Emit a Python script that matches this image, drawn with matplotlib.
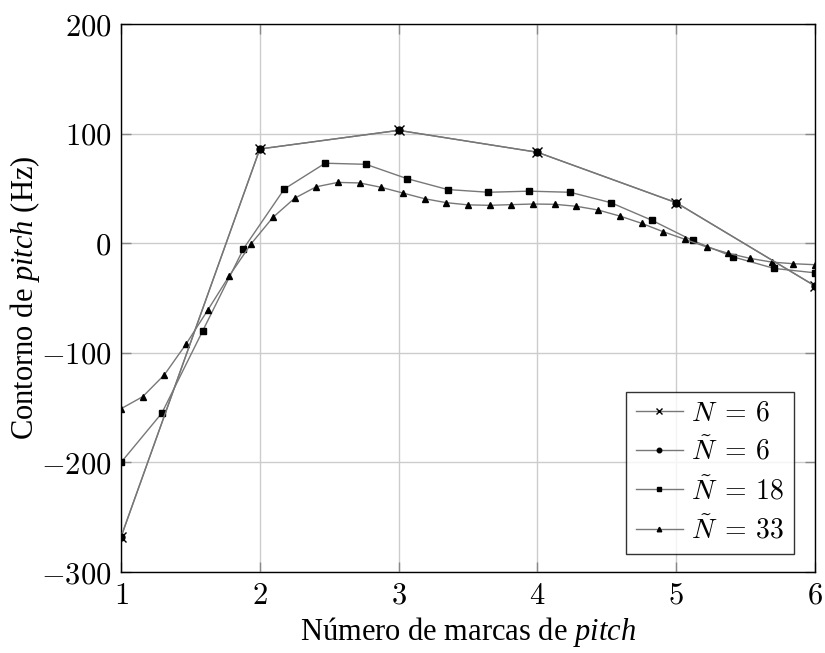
import matplotlib
matplotlib.use("Agg")
import matplotlib.pyplot as plt
import numpy as np

plt.rcParams['mathtext.fontset'] = 'cm'
plt.rcParams['mathtext.rm'] = 'Liberation Serif'
plt.rcParams['mathtext.it'] = 'Liberation Serif:italic'
plt.rcParams['font.family'] = ['Liberation Serif', 'DejaVu Serif']

x6 = [1, 2, 3, 4, 5, 6]
n6 = [-268, 86, 103, 83, 37, -39]
nt6 = [-268, 86, 103, 83, 37, -39]

x18 = list(np.linspace(1, 6, 18))
nt18 = [-200, -155, -80, -5, 49.5, 73, 72, 59, 49, 46.5, 47.5, 46.5, 37, 21, 2.5, -12.5, -23, -27]

x33 = list(np.linspace(1, 6, 33))
nt33 = [-151, -140, -120, -92, -61, -29.5, -0.5, 23.5, 41, 51.5, 55.5, 55, 51, 45.8, 40.6, 37,
        35, 34.6, 35.2, 35.8, 35.5, 33.7, 30.3, 24.8, 18.2, 10.5, 3.6, -3.4, -9.2, -13.8, -17.2,
        -18.7, -19.6]

labels = [r'$N\;{=}\,6$', r'$\tilde{N}\;{=}\,6$', r'$\tilde{N}\;{=}\,18$', r'$\tilde{N}\;{=}\,33$']
xticks = [1, 2, 3, 4, 5, 6]
yticks = [-300, -200, -100, 0, 100, 200]

fig = plt.figure(figsize=(8.25, 6.53), dpi=100)
ax = fig.add_axes([0.1467, 0.124, 0.8412, 0.8392])

lc = '#777777'
ax.plot(x6, n6, color=lc, lw=1.0, marker='x', ms=7, mec='black', mew=1.0, label=labels[0], zorder=3)
ax.plot(x6, nt6, color=lc, lw=1.0, marker='o', ms=5, mfc='black', mec='black', label=labels[1], zorder=4)
ax.plot(x18, nt18, color=lc, lw=1.0, marker='s', ms=5, mfc='black', mec='black', label=labels[2], zorder=3)
ax.plot(x33, nt33, color=lc, lw=1.0, marker='^', ms=5, mfc='black', mec='black', label=labels[3], zorder=3)

ax.set_xlim(1, 6)
ax.set_ylim(-300, 200)
ax.set_xticks(xticks)
ax.set_yticks(yticks)
ax.set_xticklabels([r'$%d$' % v for v in xticks])
ax.set_yticklabels([r'$%d$' % v if v >= 0 else r'$-%d$' % (-v) for v in yticks])
ax.grid(True, color='#cccccc', lw=1.0)
ax.set_axisbelow(True)
ax.tick_params(direction='in', length=7, width=1.0, color='#888888', labelsize=22,
               top=True, right=True, pad=7)
for s in ax.spines.values():
    s.set_linewidth(1.0)
    s.set_color('black')

ax.set_xlabel(r'Número de marcas de $\mathit{pitch}$', fontsize=22, labelpad=3,
              math_fontfamily='custom')
ax.set_ylabel(r'Contorno de $\mathit{pitch}$ (Hz)', fontsize=22, labelpad=-1,
              math_fontfamily='custom')

leg = ax.legend(loc='lower right', bbox_to_anchor=(0.9697, 0.0328), fontsize=20, handlelength=1.7,
                markerscale=0.65, frameon=True, fancybox=False, edgecolor='black',
                borderpad=0.35, labelspacing=0.38, handletextpad=0.3, borderaxespad=0.0)
leg.get_frame().set_linewidth(1.0)

fig.savefig('out.png', dpi=100)
